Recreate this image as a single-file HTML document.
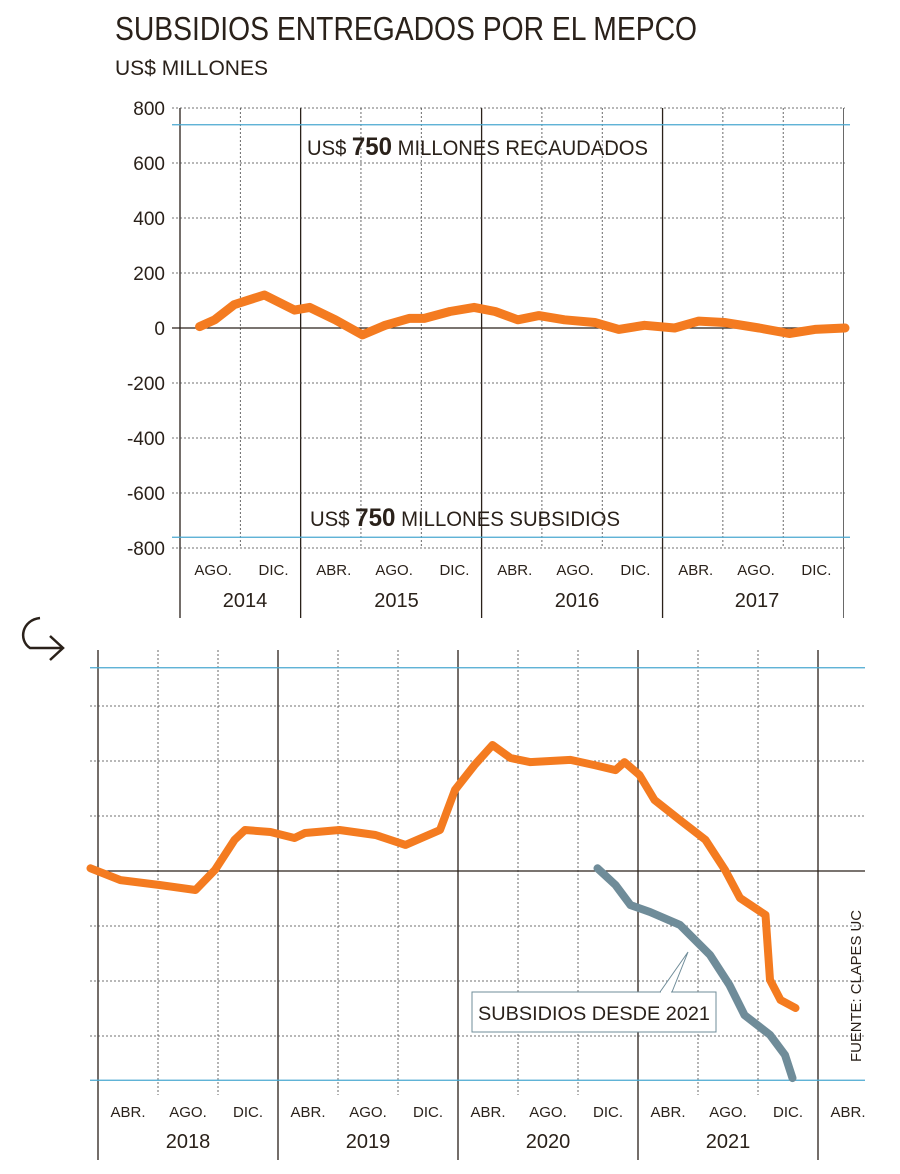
<!DOCTYPE html>
<html><head><meta charset="utf-8"><style>
body{margin:0;background:#fff}
svg{display:block;font-family:"Liberation Sans",sans-serif}
</style></head><body>
<svg id="c" width="900" height="1174" viewBox="0 0 900 1174">
<text x="115" y="40" font-size="33" fill="#2a211a" textLength="582" lengthAdjust="spacingAndGlyphs">SUBSIDIOS ENTREGADOS POR EL MEPCO</text>
<text x="115" y="75" font-size="21" fill="#2a211a" textLength="153" lengthAdjust="spacingAndGlyphs">US$ MILLONES</text>
<g id="top"></g>
<g id="bot"></g>
<path d="M40 618 C22 620 18 640 30 648 L62 648 M50 636 L63 648 L50 660" fill="none" stroke="#2a211a" stroke-width="2.5"/>
<text transform="translate(861,1062) rotate(-90)" font-size="15" fill="#2a211a" textLength="152" lengthAdjust="spacingAndGlyphs">FUENTE: CLAPES UC</text>
</svg>
<script>
// ---- top chart data (month index 0 = May 2014) ----
const topMonths=[1.3,2.3,3.6,5.6,7.6,8.6,10.3,12.1,13.6,15.2,16.2,17.9,19.5,20.9,22.4,23.8,25.5,27.5,29.1,30.8,32.8,34.4,36.1,38.4,40.4,42.1,44.1];
const topValues=[5,30,85,120,65,75,30,-25,10,35,35,60,75,60,30,45,30,20,-5,10,0,25,20,0,-20,-5,0];
const topTicks=[800,600,400,200,0,-200,-400,-600,-800];
const topMonthLabels=["AGO.","DIC.","ABR.","AGO.","DIC.","ABR.","AGO.","DIC.","ABR.","AGO.","DIC."];
const topYears=["2014","2015","2016","2017"];
// ---- bottom chart data (month index 0 = Jan 2018) ----
const botMonths=[-0.5,1.5,4.1,6.5,7.8,9.1,9.8,11.5,13.1,13.8,16.1,18.5,20.5,22.8,23.8,25.1,26.3,27.5,28.8,31.5,33.1,34.5,35.1,36.1,37.1,38.8,40.5,41.8,42.8,44.5,44.8,45.5,46.5];
const botValues=[10,-33,-51,-69,4,113,149,142,120,138,149,131,95,149,295,385,458,411,396,404,385,367,396,349,258,185,113,4,-98,-160,-396,-469,-498];
const grayMonths=[33.3,34.5,35.5,36.8,38.8,40.8,42.1,43.1,44.8,45.8,46.3];
const grayValues=[10,-51,-124,-149,-196,-305,-415,-524,-596,-669,-753];
const botMonthLabels=["ABR.","AGO.","DIC.","ABR.","AGO.","DIC.","ABR.","AGO.","DIC.","ABR.","AGO.","DIC.","ABR."];
const botYears=["2018","2019","2020","2021"];

const NS="http://www.w3.org/2000/svg";
function mk(p,t,a){const e=document.createElementNS(NS,t);for(const k in a)e.setAttribute(k,a[k]);p.appendChild(e);return e;}
const G1=document.getElementById('top'),G2=document.getElementById('bot');
const ty=v=>328-v*55/200, tx=m=>180+m*15.08;
const by=v=>871-v*55/200, bx=m=>98+m*15;

const solidTop=[0,2,5,8], longTop=[0,2,5,8,11];
for(let i=0;i<=11;i++){const x=tx(i*4);const solid=solidTop.includes(i);
 const l=mk(G1,'line',{x1:x,x2:x,y1:108,y2:longTop.includes(i)?618:548,stroke:solid?'#2a211a':'#444','stroke-width':solid?1.3:0.8,'stroke-dasharray':solid||i==11?'':'2,2'});
 
 }
topTicks.forEach(v=>{const y=ty(v);
 const l=mk(G1,'line',{x1:172,x2:845,y1:y,y2:y,stroke:v==0?'#2a211a':'#444','stroke-width':v==0?1.3:0.8,'stroke-dasharray':v==0?'':'2,2'});
 
 
 const t=mk(G1,'text',{x:165,y:y+7,'font-size':19,'text-anchor':'end',fill:'#2a211a'});t.textContent=v;
 
 });
[750,-750].forEach(v=>{const l=mk(G1,'line',{x1:172,x2:850,y1:ty(v)+3,y2:ty(v)+3,stroke:'#4aa8d0','stroke-width':1.2});
 
 });
const r1=mk(G1,'text',{x:307,y:155,'font-size':21,fill:'#2a211a',textLength:341,lengthAdjust:'spacingAndGlyphs'});r1.innerHTML='US$ <tspan font-weight="bold" font-size="25">750</tspan> MILLONES RECAUDADOS';

const r2=mk(G1,'text',{x:310,y:526,'font-size':21,fill:'#2a211a',textLength:310,lengthAdjust:'spacingAndGlyphs'});r2.innerHTML='US$ <tspan font-weight="bold" font-size="25">750</tspan> MILLONES SUBSIDIOS';

topMonthLabels.forEach((s,i)=>{const t=mk(G1,'text',{x:tx(i*4+2.2),y:575,'font-size':15,'text-anchor':'middle',fill:'#2a211a'});t.textContent=s;
 });
[[180,302],[302,483],[483,663],[663,843]].forEach((r,i)=>{const t=mk(G1,'text',{x:(r[0]+r[1])/2+4,y:607,'font-size':20,'text-anchor':'middle',fill:'#2a211a'});t.textContent=topYears[i];
 });
function line(g,xs,ys,fx,fy,col,w,name){let d='';xs.forEach((m,i)=>{d+=(i?'L':'M')+fx(m).toFixed(1)+' '+fy(ys[i]).toFixed(1);});
 const p=mk(g,'path',{d:d,fill:'none',stroke:col,'stroke-width':w,'stroke-linecap':'round','stroke-linejoin':'round'});
 }
line(G1,topMonths,topValues,tx,ty,'#f47b20',9,'subsidy-line-2014-2017');

for(let i=0;i<=12;i++){const x=bx(i*4);const solid=i%3==0;
 const l=mk(G2,'line',{x1:x,x2:x,y1:650,y2:solid?1160:1095,stroke:solid?'#2a211a':'#444','stroke-width':solid?1.3:0.8,'stroke-dasharray':solid?'':'2,2'});
 }
[600,400,200,0,-200,-400,-600].forEach(v=>{const l=mk(G2,'line',{x1:90,x2:865,y1:by(v),y2:by(v),stroke:v==0?'#2a211a':'#444','stroke-width':v==0?1.3:0.8,'stroke-dasharray':v==0?'':'2,2'});
 });
[750,-750].forEach(v=>{const l=mk(G2,'line',{x1:90,x2:865,y1:by(v)+3,y2:by(v)+3,stroke:'#4aa8d0','stroke-width':1.2});
 });
botMonthLabels.forEach((s,i)=>{const t=mk(G2,'text',{x:bx(i*4+2),y:1117,'font-size':15,'text-anchor':'middle',fill:'#2a211a'});t.textContent=s;
 });
botYears.forEach((s,i)=>{const t=mk(G2,'text',{x:bx(i*12+6),y:1148,'font-size':20,'text-anchor':'middle',fill:'#2a211a'});t.textContent=s;
 });
line(G2,botMonths,botValues,bx,by,'#f47b20',8,'subsidy-line-2018-2021');
line(G2,grayMonths,grayValues,bx,by,'#6f8c99',8,'subsidy-since-2021-line');
const cp=mk(G2,'path',{d:'M660 992 L688 952 L672 992',fill:'#fff',stroke:'#6f8c99','stroke-width':1});

const cb=mk(G2,'rect',{x:472,y:992,width:244,height:40,fill:'#fff',stroke:'#6f8c99','stroke-width':1});

mk(G2,'line',{x1:661,x2:671,y1:992,y2:992,stroke:'#fff','stroke-width':2});
const ct=mk(G2,'text',{x:594,y:1020,'font-size':19,'text-anchor':'middle',fill:'#2a211a',textLength:232,lengthAdjust:'spacingAndGlyphs'});ct.textContent='SUBSIDIOS DESDE 2021';

</script>
</body></html>
